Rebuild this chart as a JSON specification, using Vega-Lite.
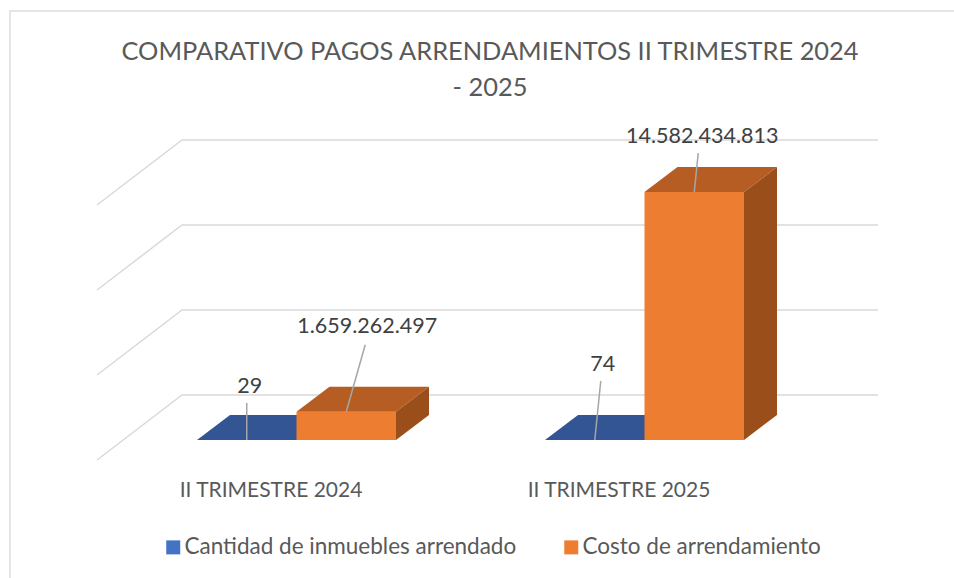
{
"$schema":"https://vega.github.io/schema/vega-lite/v6.json",
"width":696,"height":255,
"autosize":{"type":"none"},
"padding":{"left":97,"top":205,"right":161,"bottom":118},
"background":"#ffffff",
"config":{"view":{"stroke":null},"font":"Lato"},
"title":{"text":["COMPARATIVO PAGOS ARRENDAMIENTOS II TRIMESTRE 2024","- 2025"],"font":"Lato","fontSize":25.4,"fontWeight":"normal","color":"#595959","anchor":"middle","frame":"group","dx":45,"offset":-93,"lineHeight":36},
"datasets":{
"bars":[
{"period":"II TRIMESTRE 2024","series":"Cantidad de inmuebles arrendado","value":29,"label":"29"},
{"period":"II TRIMESTRE 2024","series":"Costo de arrendamiento","value":1659262497,"label":"1.659.262.497"},
{"period":"II TRIMESTRE 2025","series":"Cantidad de inmuebles arrendado","value":74,"label":"74"},
{"period":"II TRIMESTRE 2025","series":"Costo de arrendamiento","value":14582434813,"label":"14.582.434.813"}],
"ticks":[{"tick":0},{"tick":5000000000},{"tick":10000000000},{"tick":15000000000}]
},
"layer":[
{"data":{"values":[{"frame":"chart"}]},
 "mark":{"type":"point","shape":"M-87,373 L-87,-194 L870,-194","filled":false,"stroke":"#DDDDDD","strokeWidth":1.5,"opacity":1,"size":4},
 "encoding":{"x":{"value":0},"y":{"value":0}}},
{"data":{"name":"ticks"},
 "mark":{"type":"point","shape":"M0,0 L85,-65 L781,-65","filled":false,"stroke":"#D9D9D9","strokeWidth":1.5,"opacity":1,"size":4},
 "encoding":{"x":{"value":0},"y":{"field":"tick","type":"quantitative","axis":null,"scale":{"domain":[0,15000000000],"nice":false}}}},
{"data":{"name":"bars"},
 "encoding":{
  "x":{"field":"period","type":"nominal","title":null,"scale":{"paddingInner":0,"paddingOuter":0},
   "axis":{"domain":false,"ticks":false,"labelAngle":0,"labelFont":"Lato","labelFontSize":21,"labelColor":"#595959","labelPadding":19,"labelLimit":400,"grid":false}},
  "xOffset":{"field":"series","type":"nominal","scale":{"domain":["Cantidad de inmuebles arrendado","Costo de arrendamiento"],"range":[25.5,373.5],"paddingInner":0,"paddingOuter":0.749}},
  "y":{"field":"value","type":"quantitative","axis":null}
 },
 "layer":[
 {"transform":[{"filter":"datum.series==='Cantidad de inmuebles arrendado'"}],
  "mark":{"type":"point","shape":"M-49.75,0 L49.75,0 L82.75,-25 L-16.75,-25 Z","filled":true,"fill":"#335593","stroke":null,"opacity":1,"size":4,"yOffset":-20}},
 {"mark":{"type":"bar","yOffset":-20},
  "encoding":{"color":{"field":"series","type":"nominal","title":null,
    "scale":{"domain":["Cantidad de inmuebles arrendado","Costo de arrendamiento"],"range":["#4472C4","#ED7D31"]},
    "legend":{"orient":"none","legendX":65,"legendY":331,"direction":"horizontal","columns":2,"columnPadding":43,"symbolType":"square","symbolSize":196,"symbolOpacity":1,"symbolStrokeWidth":0,"labelFont":"Lato","labelFontSize":22.5,"labelColor":"#595959","labelLimit":400,"labelOffset":0}}}},
 {"transform":[{"filter":"datum.series==='Costo de arrendamiento'"}],
  "mark":{"type":"point","shape":"M-49.75,0 L49.75,0 L82.75,-25 L-16.75,-25 Z","filled":true,"fill":"#B55D22","stroke":null,"opacity":1,"size":4,"yOffset":-20}},
 {"transform":[{"filter":"datum.label==='1.659.262.497'"}],
  "mark":{"type":"point","shape":"M49.75,0 L82.75,-25 L82.75,3.2 L49.75,28.2 Z","filled":true,"fill":"#9A4F1B","stroke":null,"opacity":1,"size":4,"yOffset":-20}},
 {"transform":[{"filter":"datum.label==='14.582.434.813'"}],
  "mark":{"type":"point","shape":"M49.75,0 L82.75,-25 L82.75,222.9 L49.75,247.9 Z","filled":true,"fill":"#9A4F1B","stroke":null,"opacity":1,"size":4,"yOffset":-20}},
 {"transform":[{"filter":"datum.label==='29'"}],
  "mark":{"type":"point","shape":"M0,0 L0,-37","filled":false,"stroke":"#A6A6A6","strokeWidth":1.5,"opacity":1,"size":4,"yOffset":-20}},
 {"transform":[{"filter":"datum.label==='1.659.262.497'"}],
  "mark":{"type":"point","shape":"M0,0 L19,-67","filled":false,"stroke":"#A6A6A6","strokeWidth":1.5,"opacity":1,"size":4,"yOffset":-20}},
 {"transform":[{"filter":"datum.label==='74'"}],
  "mark":{"type":"point","shape":"M0,0 L6,-59","filled":false,"stroke":"#A6A6A6","strokeWidth":1.5,"opacity":1,"size":4,"yOffset":-20}},
 {"transform":[{"filter":"datum.label==='14.582.434.813'"}],
  "mark":{"type":"point","shape":"M0,0 L4,-39","filled":false,"stroke":"#A6A6A6","strokeWidth":1.5,"opacity":1,"size":4,"yOffset":-20}},
 {"transform":[{"filter":"datum.label==='29'"}],
  "mark":{"type":"text","font":"Lato","fontSize":21.5,"color":"#404040","dx":3,"dy":-53,"yOffset":-20},"encoding":{"text":{"field":"label"}}},
 {"transform":[{"filter":"datum.label==='1.659.262.497'"}],
  "mark":{"type":"text","font":"Lato","fontSize":21.5,"color":"#404040","dx":21,"dy":-85,"yOffset":-20},"encoding":{"text":{"field":"label"}}},
 {"transform":[{"filter":"datum.label==='74'"}],
  "mark":{"type":"text","font":"Lato","fontSize":21.5,"color":"#404040","dx":8,"dy":-75,"yOffset":-20},"encoding":{"text":{"field":"label"}}},
 {"transform":[{"filter":"datum.label==='14.582.434.813'"}],
  "mark":{"type":"text","font":"Lato","fontSize":21.5,"color":"#404040","dx":8,"dy":-55,"yOffset":-20},"encoding":{"text":{"field":"label"}}}
 ]}
]
}
